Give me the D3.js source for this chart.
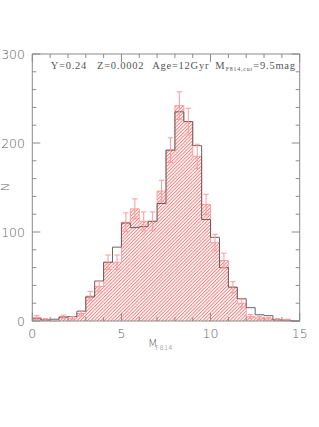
<!DOCTYPE html>
<html>
<head>
<meta charset="utf-8">
<script src="https://cdn.jsdelivr.net/npm/d3@7"></script>
<style>
  body { margin: 0; background: #fff; }
  svg { display: block; }
</style>
</head>
<body>
<svg id="chart" width="319" height="427"></svg>
<script>
// 数据：每 0.5 mag 一个 bin，0 到 15
const binWidth = 0.5;
const observed = [4, 1.5, 0, 4.5, 3, 8.5, 28, 39, 66, 66, 111, 126, 112, 112, 146, 192, 242, 224, 185, 131, 88, 68, 38, 20, 5, 3.5, 2.5, 1.5, 1, 0];
const model = [2.5, 1, 2, 4.5, 5, 11, 27, 45, 66, 83, 110, 105, 106, 112, 132, 192, 235, 224, 197, 114, 94, 60, 38, 25, 15, 7, 6, 1, 1, 0];
const xTicks = [0, 5, 10, 15];
const yTicks = [0, 100, 200, 300];

const svg = d3.select("#chart");
const frameColor = "#8a8a8a";
const textColor = "#666";

const x = d3.scaleLinear().domain([0, 15]).range([32.3, 299.7]);
const y = d3.scaleLinear().domain([0, 300]).range([321, 54]);

// 斜线填充
const hs = 2.4;
const pat = svg.append("defs").append("pattern")
    .attr("id", "hatch")
    .attr("patternUnits", "userSpaceOnUse")
    .attr("width", hs)
    .attr("height", hs)
    .attr("patternTransform", "rotate(45)");
pat.append("line")
    .attr("x1", 0.5).attr("y1", 0)
    .attr("x2", 0.5).attr("y2", hs)
    .attr("stroke", "#ff6060")
    .attr("stroke-width", 0.8);

// 观测直方图（红色斜线）
svg.append("g")
    .selectAll("rect")
    .data(observed)
    .enter()
    .append("rect")
    .attr("x", (d, i) => x(i * binWidth))
    .attr("width", (d, i) => x((i + 1) * binWidth) - x(i * binWidth))
    .attr("y", d => y(d))
    .attr("height", d => y(0) - y(d))
    .attr("fill", "url(#hatch)");

const stepPts = arr => {
    const pts = arr.map((d, i) => [i * binWidth, d]);
    pts.push([arr.length * binWidth, arr[arr.length - 1]]);
    return pts;
};
const step = d3.line()
    .x(d => x(d[0]))
    .y(d => y(d[1]))
    .curve(d3.curveStepAfter);

svg.append("path")
    .datum(stepPts(observed))
    .attr("d", step)
    .attr("fill", "none")
    .attr("stroke", "#ff8a8a")
    .attr("stroke-width", 0.8);

// 模型直方图（灰黑线）
svg.append("path")
    .datum(stepPts(model))
    .attr("d", step)
    .attr("fill", "none")
    .attr("stroke", "#555")
    .attr("stroke-width", 0.9);

// 误差棒 sqrt(N)
const eb = svg.append("g")
    .attr("stroke", "#ff9a9a")
    .attr("stroke-width", 1)
    .selectAll("g")
    .data(observed.map((d, i) => ({ c: (i + 0.5) * binWidth, n: d })).filter(d => d.n > 0))
    .enter()
    .append("g");
eb.append("line")
    .attr("x1", d => x(d.c)).attr("x2", d => x(d.c))
    .attr("y1", d => y(d.n - Math.sqrt(d.n)))
    .attr("y2", d => y(d.n + Math.sqrt(d.n)));
eb.append("line")
    .attr("x1", d => x(d.c) - 2.7).attr("x2", d => x(d.c) + 2.7)
    .attr("y1", d => y(d.n + Math.sqrt(d.n)))
    .attr("y2", d => y(d.n + Math.sqrt(d.n)));
eb.append("line")
    .attr("x1", d => x(d.c) - 2.7).attr("x2", d => x(d.c) + 2.7)
    .attr("y1", d => y(d.n - Math.sqrt(d.n)))
    .attr("y2", d => y(d.n - Math.sqrt(d.n)));

// 边框和刻度
svg.append("rect")
    .attr("x", x(0)).attr("y", y(300))
    .attr("width", x(15) - x(0)).attr("height", y(0) - y(300))
    .attr("fill", "none")
    .attr("stroke", frameColor)
    .attr("stroke-width", 1);

const tickG = svg.append("g").attr("stroke", frameColor).attr("stroke-width", 1);
d3.range(0, 16, 1).forEach(v => {
    const len = v % 5 === 0 ? 8 : 4;
    tickG.append("line").attr("x1", x(v)).attr("x2", x(v)).attr("y1", y(0)).attr("y2", y(0) - len);
    tickG.append("line").attr("x1", x(v)).attr("x2", x(v)).attr("y1", y(300)).attr("y2", y(300) + len);
});
d3.range(0, 301, 20).forEach(v => {
    const len = v % 100 === 0 ? 8 : 4;
    tickG.append("line").attr("x1", x(0)).attr("x2", x(0) + len).attr("y1", y(v)).attr("y2", y(v));
    tickG.append("line").attr("x1", x(15)).attr("x2", x(15) - len).attr("y1", y(v)).attr("y2", y(v));
});

// 刻度标签
const tickFont = "'DejaVu Sans', sans-serif";
svg.append("g")
    .selectAll("text")
    .data(xTicks)
    .enter()
    .append("text")
    .attr("x", d => x(d))
    .attr("y", 337.5)
    .attr("text-anchor", "middle")
    .attr("font-family", tickFont)
    .attr("font-weight", 200)
    .attr("font-size", 12.5)
    .attr("fill", textColor)
    .text(d => d);

svg.append("g")
    .selectAll("text")
    .data(yTicks)
    .enter()
    .append("text")
    .attr("x", 25)
    .attr("y", d => y(d) + 4.5)
    .attr("text-anchor", "end")
    .attr("font-family", tickFont)
    .attr("font-weight", 200)
    .attr("font-size", 12.5)
    .attr("fill", textColor)
    .text(d => d);

// 轴标题
svg.append("text")
    .attr("x", 148).attr("y", 347)
    .attr("font-family", tickFont).attr("font-weight", 200)
    .attr("font-size", 11).attr("fill", textColor)
    .text("M");
svg.append("text")
    .attr("x", 155.5).attr("y", 350)
    .attr("font-family", tickFont).attr("font-weight", 200)
    .attr("font-size", 6.5).attr("fill", textColor)
    .attr("textLength", 17).attr("lengthAdjust", "spacing")
    .text("F814");

svg.append("text")
    .attr("transform", "translate(9,187) rotate(-90)")
    .attr("text-anchor", "middle")
    .attr("font-family", tickFont)
    .attr("font-weight", 200)
    .attr("font-size", 11)
    .attr("fill", textColor)
    .text("N");

// 注释：依次排列，按测量宽度拉开间距，铺满 50.7 到 295.7
const notes = [
    { t: "Y=0.24", fs: 10.5, dy: 0, gap: 10 },
    { t: "Z=0.0002", fs: 10.5, dy: 0, gap: 8 },
    { t: "Age=12Gyr", fs: 10.5, dy: 0, gap: 6 },
    { t: "M", fs: 10.5, dy: 0, gap: 0.5 },
    { t: "F814,cut", fs: 6, dy: 2.2, gap: 0.5 },
    { t: "=9.5mag", fs: 10.5, dy: 0, gap: 0 }
];
const noteG = svg.append("g");
const noteTexts = noteG.selectAll("text")
    .data(notes)
    .enter()
    .append("text")
    .attr("y", d => 69 + d.dy)
    .attr("font-family", "'Liberation Serif', serif")
    .attr("font-size", d => d.fs)
    .attr("fill", "#555")
    .text(d => d.t);
const widths = noteTexts.nodes().map(n => n.getComputedTextLength());
const nChars = d3.sum(notes, d => d.t.length);
const gaps = d3.sum(notes, d => d.gap);
const ls = (295.7 - 50.7 - d3.sum(widths) - gaps) / nChars;
let cx = 50.7;
noteTexts.each(function (d, i) {
    d3.select(this).attr("x", cx).attr("letter-spacing", ls);
    cx += widths[i] + ls * d.t.length + d.gap;
});
</script>
</body>
</html>
